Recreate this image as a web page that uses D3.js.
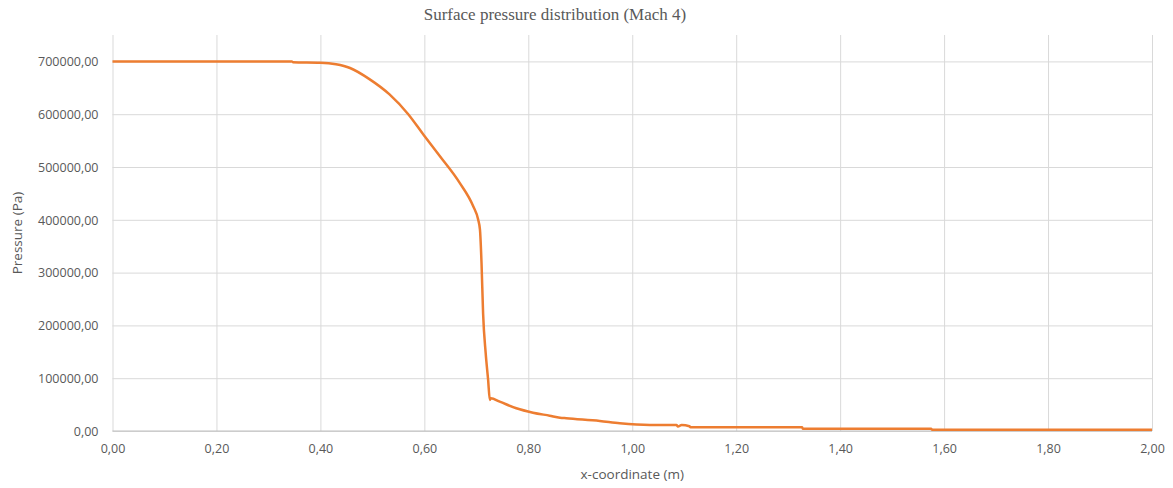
<!DOCTYPE html>
<html>
<head>
<meta charset="utf-8">
<script src="https://cdn.jsdelivr.net/npm/d3@7"></script>
<style>
  body { margin: 0; background: #fff; }
  text { font-family: "Open Sans", "Noto Sans", sans-serif; fill: #595959; }
  .title { font-family: "Liberation Serif", "DejaVu Serif", serif; font-size: 17px; }
  .tick text { font-size: 12.5px; }
  .axislabel { font-size: 13.5px; }
</style>
</head>
<body>
<script>
// values
var xCoord = [0, 0.345, 0.347, 0.40, 0.43, 0.457, 0.495, 0.533, 0.569, 0.598, 0.630, 0.668, 0.694, 0.7035,
              0.707, 0.710, 0.713, 0.718, 0.7227, 0.726, 0.728, 0.745, 0.777, 0.809, 0.841, 0.861, 0.873,
              0.9375, 0.976, 1.034, 1.085, 1.088, 1.095, 1.11, 1.112, 1.327, 1.328, 1.575, 1.577, 2.0];
var pressure = [700000, 700000, 698500, 697500, 694500, 687500, 666000, 637500, 600000, 561700, 520500, 470000, 425600, 400400,
                381400, 318200, 223300, 147400, 96800, 58800, 62000, 55600, 43000, 34700, 29000, 25300, 24100,
                19000, 14600, 11400, 11400, 8400, 11400, 9000, 7000, 7000, 4400, 4400, 2500, 2500];
var xTicks = [0, 0.2, 0.4, 0.6, 0.8, 1.0, 1.2, 1.4, 1.6, 1.8, 2.0];
var yTicks = [0, 100000, 200000, 300000, 400000, 500000, 600000, 700000];

var width = 1173, height = 488;
var margin = {top: 35, right: 21, bottom: 57, left: 112.5};

var svg = d3.select("body").append("svg")
    .attr("width", width)
    .attr("height", height);

var x = d3.scaleLinear().domain([0, 2]).range([margin.left, width - margin.right]),
    y = d3.scaleLinear().domain([0, 750000]).range([height - margin.bottom, margin.top]);

var fmt = function(d, n) { return d.toFixed(n).replace(".", ","); };

// gridlines + tick labels
svg.append("g")
    .attr("transform", "translate(" + margin.left + ",0)")
    .call(d3.axisLeft(y).tickValues(yTicks).tickSize(-(x.range()[1] - x.range()[0])).tickFormat(function(d) { return fmt(d, 2); }))
    .call(function(g) { g.select(".domain").remove(); })
    .call(function(g) {
      g.selectAll(".tick line").attr("stroke", "#d9d9d9").attr("stroke-width", 1);
      g.selectAll(".tick text").attr("x", -14).attr("dy", "0.35em");
    });

svg.append("g")
    .attr("transform", "translate(0," + (height - margin.bottom) + ")")
    .call(d3.axisBottom(x).tickValues(xTicks).tickSize(-(y.range()[0] - margin.top)).tickFormat(function(d) { return fmt(d, 2); }))
    .call(function(g) { g.select(".domain").remove(); })
    .call(function(g) {
      g.selectAll(".tick line").attr("stroke", "#d9d9d9").attr("stroke-width", 1);
      g.selectAll(".tick text").attr("y", 13);
    });

// axis baseline
svg.append("line")
    .attr("x1", x(0)).attr("x2", x(2))
    .attr("y1", y(0)).attr("y2", y(0))
    .attr("stroke", "#bfbfbf");

// curve
var pts = xCoord.map(function(d, i) { return [d, pressure[i]]; });
svg.append("path")
    .datum(pts)
    .attr("fill", "none")
    .attr("stroke", "#ED7D31")
    .attr("stroke-width", 2.5)
    .attr("stroke-linejoin", "round")
    .attr("d", d3.line().curve(d3.curveMonotoneX).x(function(d) { return x(d[0]); }).y(function(d) { return y(d[1]); }));

// titles
svg.append("text")
    .attr("class", "title")
    .attr("x", 555).attr("y", 20)
    .attr("text-anchor", "middle")
    .text("Surface pressure distribution (Mach 4)");

svg.append("text")
    .attr("class", "axislabel")
    .attr("x", (x(0) + x(2)) / 2).attr("y", 479)
    .attr("text-anchor", "middle")
    .text("x-coordinate (m)");

svg.append("text")
    .attr("class", "axislabel")
    .attr("transform", "translate(22," + 233 + ")rotate(-90)")
    .attr("text-anchor", "middle")
    .text("Pressure (Pa)");
</script>
</body>
</html>
